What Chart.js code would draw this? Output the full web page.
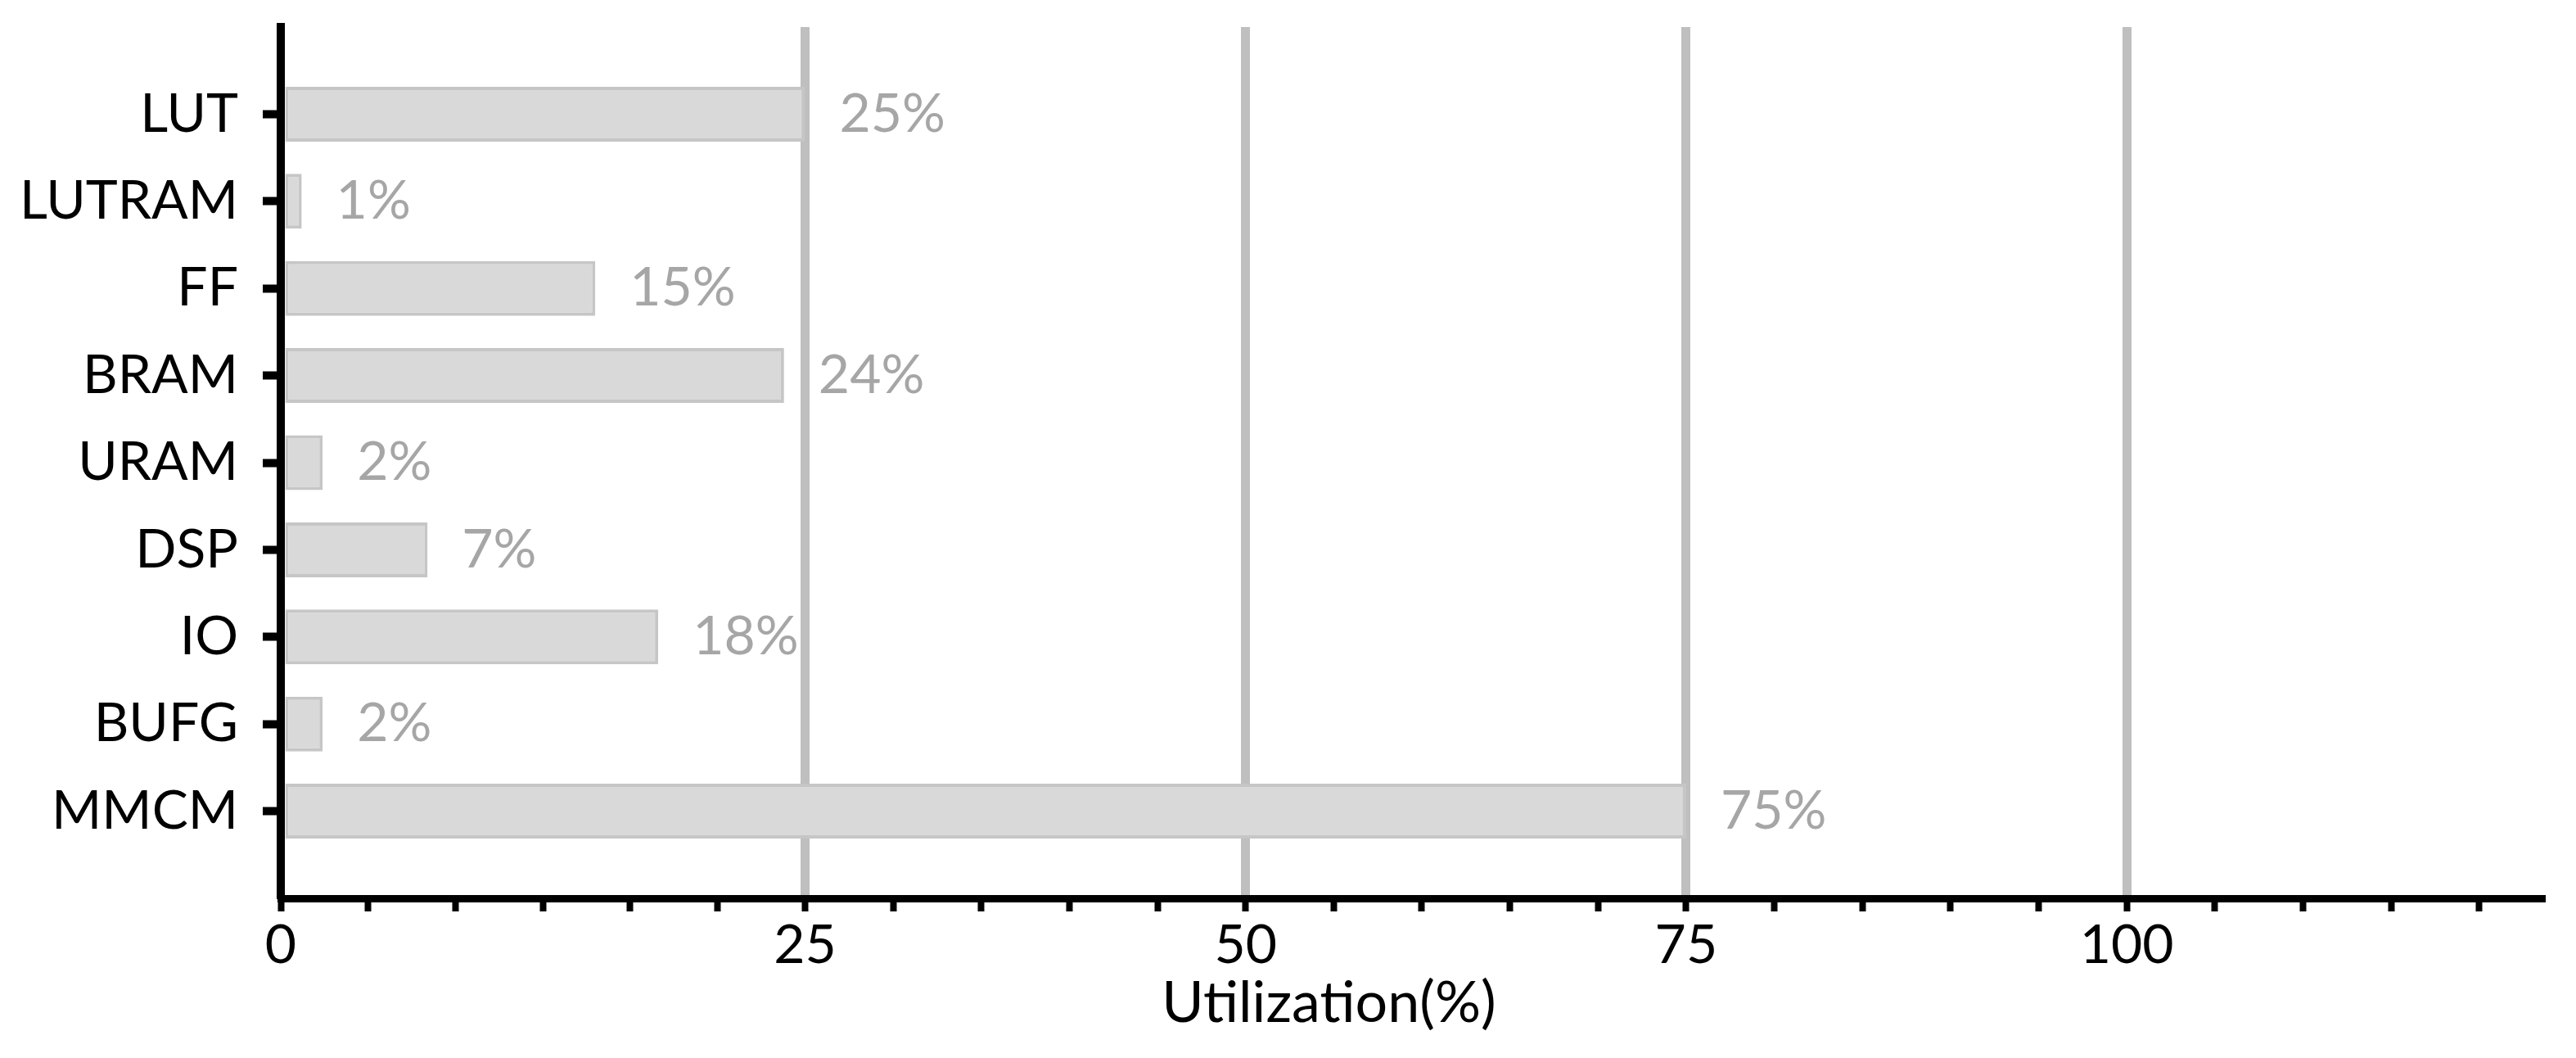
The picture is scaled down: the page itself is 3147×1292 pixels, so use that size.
<!DOCTYPE html>
<html>
<head>
<meta charset="utf-8">
<script src="https://cdn.jsdelivr.net/npm/chart.js@4.4.1/dist/chart.umd.min.js"></script>
<style>
  html, body { margin: 0; padding: 0; background: #ffffff; }
  #wrap { width: 3147px; height: 1292px; position: relative; }
</style>
</head>
<body>
<div id="wrap"><canvas id="mainChart"></canvas></div>
<script>
// resource names and their utilization (%)
const categories = ['LUT', 'LUTRAM', 'FF', 'BRAM', 'URAM', 'DSP', 'IO', 'BUFG', 'MMCM'];
const utilization = [25, 1, 15, 24, 2, 7, 18, 2, 75];
const xTickLabels = [0, 25, 50, 75, 100];
const axisTitle = 'Utilization(%)';

// the original axis is stretched between 0 and 25 (six tick steps instead of five)
const BREAK = 25;
const STRETCH = 1.19;

class StretchScale extends Chart.LinearScale {
    static id = 'stretch';
    toVirtual(v) { return v <= BREAK ? v * STRETCH : v + BREAK * (STRETCH - 1); }
    fromVirtual(u) { return u <= BREAK * STRETCH ? u / STRETCH : u - BREAK * (STRETCH - 1); }
    getPixelForValue(value) {
        if (value === null || isNaN(value)) return NaN;
        const lo = this.toVirtual(this.min), hi = this.toVirtual(this.max);
        return this.getPixelForDecimal((this.toVirtual(value) - lo) / (hi - lo));
    }
    getValueForPixel(pixel) {
        const lo = this.toVirtual(this.min), hi = this.toVirtual(this.max);
        return this.fromVirtual(lo + this.getDecimalForPixel(pixel) * (hi - lo));
    }
}
Chart.register(StretchScale);

// tick marks: six even steps up to 25, then every 5
const xTicks = [];
for (let i = 0; i <= 6; i++) xTicks.push(BREAK * i / 6);
for (let v = 30; v <= 120; v += 5) xTicks.push(v);

// blank rows above and below so the axis runs past the first and last bar
const rowLabels = [''].concat(categories, ['']);
const rowValues = [null].concat(utilization, [null]);

const FONT = 'Lato';

const valueLabels = {
    id: 'valueLabels',
    afterDatasetsDraw(chart) {
        const ctx = chart.ctx;
        const meta = chart.getDatasetMeta(0);
        ctx.save();
        ctx.font = '66px ' + FONT;
        ctx.fillStyle = '#a6a6a6';
        ctx.textAlign = 'left';
        ctx.textBaseline = 'middle';
        meta.data.forEach((bar, i) => {
            const v = rowValues[i];
            if (v === null) return;
            ctx.fillText(v + '%', bar.x + 42, bar.y);
        });
        ctx.restore();
    }
};

const xTitle = {
    id: 'xTitle',
    afterDraw(chart) {
        const ctx = chart.ctx;
        const area = chart.chartArea;
        ctx.save();
        ctx.font = '70px ' + FONT;
        ctx.fillStyle = '#000000';
        ctx.textAlign = 'center';
        ctx.textBaseline = 'middle';
        ctx.fillText(axisTitle, (area.left + area.right) / 2 - 100, area.bottom + 128);
        ctx.restore();
    }
};

const ctx = document.getElementById('mainChart').getContext('2d');
new Chart(ctx, {
    type: 'bar',
    data: {
        labels: rowLabels,
        datasets: [{
            data: rowValues,
            backgroundColor: '#d9d9d9',
            borderColor: '#c6c6c6',
            borderWidth: 4,
            borderSkipped: false,
            barPercentage: 0.63,
            categoryPercentage: 1
        }]
    },
    options: {
        indexAxis: 'y',
        responsive: true,
        maintainAspectRatio: false,
        animation: false,
        layout: {
            padding: { top: 33, right: 43, bottom: 0, left: 0 }
        },
        plugins: {
            legend: { display: false },
            tooltip: { enabled: false }
        },
        scales: {
            x: {
                type: 'stretch',
                min: 0,
                max: 123.5,
                z: 1,
                afterBuildTicks: (scale) => {
                    scale.ticks = xTicks.map(v => ({ value: v }));
                },
                afterFit: (scale) => {
                    scale.height = 195;
                    scale.paddingLeft = 0;
                    scale.paddingRight = 0;
                },
                grid: {
                    color: (c) => (c.tick && c.tick.value > 0 && xTickLabels.includes(c.tick.value)) ? '#bfbfbf' : 'rgba(0,0,0,0)',
                    lineWidth: 11,
                    drawTicks: true,
                    tickLength: 16,
                    tickWidth: 8,
                    tickColor: '#000000'
                },
                border: { display: true, color: '#000000', width: 9 },
                ticks: {
                    autoSkip: false,
                    maxRotation: 0,
                    padding: 2,
                    color: '#000000',
                    font: { size: 66, family: FONT },
                    callback: (value) => xTickLabels.includes(value) ? String(value) : ''
                }
            },
            y: {
                type: 'category',
                offset: false,
                z: 1,
                afterFit: (scale) => {
                    scale.width = 343;
                    scale.paddingTop = 0;
                    scale.paddingBottom = 0;
                },
                grid: {
                    offset: false,
                    drawOnChartArea: false,
                    drawTicks: true,
                    tickLength: 22,
                    tickWidth: 10,
                    tickColor: (c) => (c.index === 0 || c.index === rowLabels.length - 1) ? 'rgba(0,0,0,0)' : '#000000'
                },
                border: { display: true, color: '#000000', width: 10 },
                ticks: {
                    autoSkip: false,
                    padding: 30,
                    color: '#000000',
                    font: { size: 66, family: FONT }
                }
            }
        }
    },
    plugins: [valueLabels, xTitle]
});
</script>
</body>
</html>
